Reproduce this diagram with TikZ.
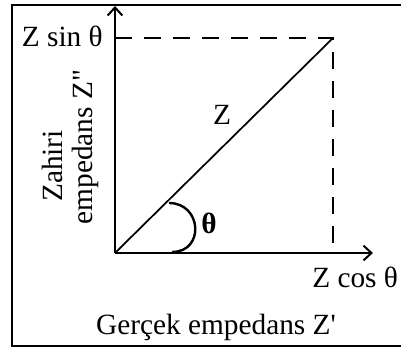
\documentclass[tikz,border=0pt]{standalone}
\usepackage{fontspec}
\setmainfont{Liberation Serif}[Ligatures=TeXOff]
\usetikzlibrary{arrows.meta}
\begin{document}
\begin{tikzpicture}[x=0.75pt,y=-0.75pt,
  lbl/.style={inner sep=0pt,font=\fontsize{22}{26}\selectfont},
  axis/.style={line width=1.7pt,-{Straight Barb[length=6pt,width=11pt,line width=1.5pt]}},
  dsh/.style={line width=2.2pt,dash pattern=on 12.75pt off 9pt},
  vec/.style={line width=1.3pt}]
\useasboundingbox (0,0) rectangle (401,349);
% frame
\draw[line width=2.2pt] (420,5) -- (12,5) -- (12,346) -- (420,346);
% coordinates
\coordinate (O) at (115,253);
\coordinate (P) at (333,38);
\coordinate (A) at (115,38);
\coordinate (B) at (333,253);
\coordinate (Yt) at (115,6);
\coordinate (Xt) at (373,253);
% axes
\draw[axis] (O) -- (Yt);
\draw[axis] (O) -- (Xt);
% dashed projections
\draw[dsh] (A) -- (P) -- (B);
% vector
\draw[vec] (O) -- (P);
% angle arc
\coordinate (D) at (169,203);
\coordinate (E) at (172,252);
\draw[line width=1.8pt] (D) .. controls (202,203) and (205,252) .. (E);
% labels
\node[lbl,anchor=base east] (zsin) at (103,47) {Z sin θ};
\node[lbl,anchor=base] (z) at (222,125) {Z};
\node[lbl,anchor=base] (th) at (209,234) {\textbf{θ}};
\node[lbl,anchor=base west] (zcos) at (312,288) {Z cos θ};
\node[lbl,anchor=base] (real) at (216,335) {Gerçek empedans Z'};
\node[lbl,anchor=base,rotate=90] (im1) at (62,166) {Zahiri};
\node[lbl,anchor=base,rotate=90] (im2) at (93,147) {empedans Z"};
\end{tikzpicture}
\end{document}
